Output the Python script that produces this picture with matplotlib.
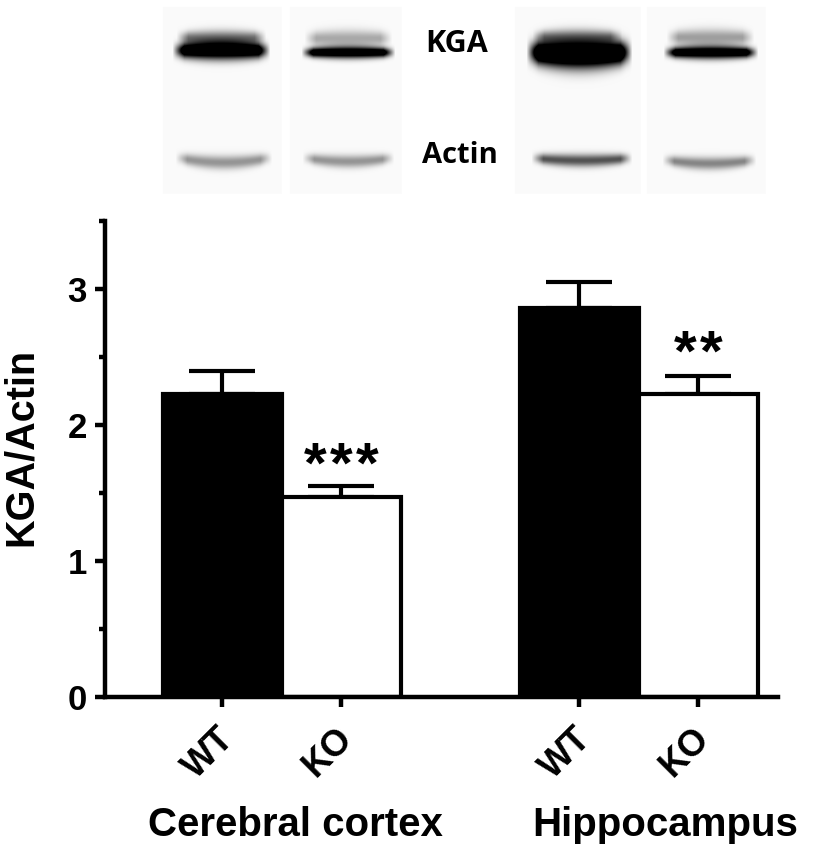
import numpy as np
import matplotlib
matplotlib.use("Agg")
import matplotlib.pyplot as plt

plt.rcParams['font.family'] = ['Liberation Sans', 'DejaVu Sans']

# bar values
bar_labels = ["WT", "KO", "WT", "KO"]
bar_pos = [0, 1, 3, 4]
bar_vals = [2.23, 1.47, 2.86, 2.23]
bar_errs = [0.17, 0.08, 0.19, 0.13]
bar_cols = ["black", "white", "black", "white"]
groups = ["Cerebral cortex", "Hippocampus"]
group_x = [0.62, 3.72]
star_x = [[0.78, 1, 1.22], [3.89, 4.11]]
star_y = [1.685, 2.51]

# blot panels in image pixels: x0, x1
panels_x = [(163, 281), (290, 401), (515, 640), (647, 765)]
# bands: x0, x1, y centre, half thickness, darkness, sag
main_bands = [(178, 264, 50, 8.5, 1.4, 0), (307, 389, 52, 5.5, 1.3, 0), (532, 626, 52, 13, 1.6, 2), (669, 752, 52, 6, 1.3, 0)]
smears = [(182, 260, 37, 7, 0.48, 0), (310, 386, 38, 8, 0.32, 0), (538, 616, 36, 7, 0.4, 0), (672, 748, 37, 8, 0.36, 0)]
actin_bands = [(181, 266, 158, 6.5, 0.4, 4), (308, 388, 158, 6, 0.4, 3), (537, 626, 158, 6, 0.66, 2), (668, 750, 160, 6, 0.46, 3)]

W, H = 828, 850
fig = plt.figure(figsize=(W / 100, H / 100), dpi=100)

# blots on a pixel-coordinate background axes
bg = fig.add_axes([0, 0, 1, 1])
bg.set_axis_off()
yy, xx = np.mgrid[0:200, 0:W]
dark = np.zeros(xx.shape)
for x0, x1 in panels_x:
    dark[(xx >= x0) & (xx <= x1) & (yy >= 7) & (yy <= 193)] = 0.018
for x0, x1, yc, hw, d, sag in main_bands + smears + actin_bands:
    edge = np.clip((xx - x0 + 6) / 12, 0, 1) * np.clip((x1 - xx + 6) / 12, 0, 1)
    u = np.clip((xx - (x0 + x1) / 2) / ((x1 - x0) / 2), -1, 1)
    prof = np.exp(-((yy - yc - sag * (1 - u ** 2)) / (hw * (0.8 + 0.25 * (1 - u ** 2)))) ** 2)
    dark += d * edge * prof
bg.imshow(1 - np.clip(dark, 0, 1), cmap="gray", vmin=0, vmax=1, extent=(0, W, 200, 0),
          interpolation="bilinear", aspect="auto")
bg.set_xlim(0, W)
bg.set_ylim(H, 0)
bg.text(457, 44, "KGA", family="Open Sans", weight="bold", fontsize=22, ha="center", va="center")
bg.text(460, 155, "Actin", family="Open Sans", weight="bold", fontsize=21, ha="center", va="center")

# bar chart
ax = fig.add_axes([105 / W, (H - 697) / H, (778 - 105) / W, (697 - 221) / H])
ax.patch.set_alpha(0)
ax.bar(bar_pos, bar_vals, width=1, color=bar_cols, edgecolor="black", linewidth=3, zorder=2)
ax.errorbar(bar_pos, bar_vals, yerr=[[0] * 4, bar_errs], fmt="none", ecolor="black",
            elinewidth=3, capsize=24, capthick=3, zorder=1)
ax.set_xlim(-0.983, 4.67)
ax.set_ylim(0, 3.5)
ax.set_xticks(bar_pos)
ax.set_xticklabels([])
ax.set_yticks([0, 1, 2, 3])
ax.set_yticks([0.5, 1.5, 2.5, 3.5], minor=True)
ax.set_yticklabels(["0", "1", "2", "3"], fontsize=25, weight="bold")
ax.tick_params(axis="both", which="major", width=3.2, length=7, pad=6)
ax.tick_params(axis="y", which="minor", width=3.2, length=4)
ax.spines["top"].set_visible(False)
ax.spines["right"].set_visible(False)
ax.spines["left"].set_linewidth(3.2)
ax.spines["bottom"].set_linewidth(3.2)
ax.set_ylabel("KGA/Actin", fontsize=28.5, weight="bold")
ax.yaxis.set_label_coords((40 - 105) / (778 - 105), (697 - 447) / (697 - 221))

trans = ax.get_xaxis_transform()
# tick labels sit a little left of their ticks
for name, x in zip(bar_labels, bar_pos):
    ax.text(x - 0.05, -0.05, name, transform=trans, rotation=45, ha="right", va="top",
            rotation_mode="anchor", fontsize=26, weight="bold")
for name, x in zip(groups, group_x):
    ax.text(x, -0.268, name, transform=trans, fontsize=29, weight="bold", ha="center", va="center")
for xs, y in zip(star_x, star_y):
    for x in xs:
        ax.text(x, y, "*", fontsize=42, weight="bold", ha="center", va="center")

fig.savefig("out.png", dpi=100)
